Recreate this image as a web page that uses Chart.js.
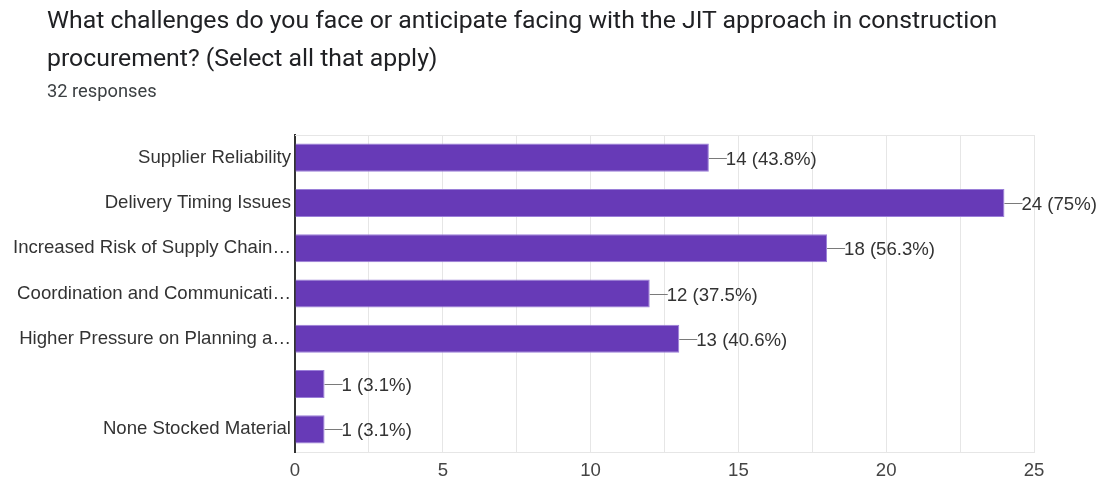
<!DOCTYPE html>
<html>
<head>
<meta charset="utf-8">
<script src="https://cdn.jsdelivr.net/npm/chart.js@4.4.1/dist/chart.umd.min.js"></script>
<style>
  html, body { margin: 0; padding: 0; background: #fff; }
  #wrap { position: relative; width: 1104px; height: 485px; overflow: hidden; }
  #title { position: absolute; left: 47px; top: 1px; font: 24.8px Roboto, "Liberation Sans", sans-serif; color: #202124; line-height: 38px; white-space: nowrap; }
  #sub { position: absolute; left: 47px; top: 80px; font: 18.3px Roboto, "Liberation Sans", sans-serif; color: #3c4043; line-height: 22px; }
  canvas { position: absolute; left: 0; top: 0; }
</style>
</head>
<body>
<div id="wrap">
  <canvas id="c" width="1104" height="485"></canvas>
  <div id="title">What challenges do you face or anticipate facing with the JIT approach in construction<br>procurement? (Select all that apply)</div>
  <div id="sub">32 responses</div>
</div>
<script>
const categories = [
  'Supplier Reliability',
  'Delivery Timing Issues',
  'Increased Risk of Supply Chain…',
  'Coordination and Communicati…',
  'Higher Pressure on Planning a…',
  '',
  'None Stocked Material'
];
const counts = [14, 24, 18, 12, 13, 1, 1];
const percents = ['43.8%', '75%', '56.3%', '37.5%', '40.6%', '3.1%', '3.1%'];
const xTicks = [0, 5, 10, 15, 20, 25];

const FONT = '"Liberation Sans", Arial, sans-serif';
const FONT_SIZE = 18.6;

// Leader lines and "count (percent)" labels beside each bar, plus the faint top frame line
const valueLabels = {
  id: 'valueLabels',
  beforeDatasetsDraw(chart) {
    const { ctx, chartArea } = chart;
    ctx.save();
    ctx.strokeStyle = '#e6e6e6';
    ctx.lineWidth = 1;
    ctx.beginPath();
    ctx.moveTo(chartArea.left, Math.round(chartArea.top) + 0.5);
    ctx.lineTo(chartArea.right, Math.round(chartArea.top) + 0.5);
    ctx.stroke();
    ctx.restore();
  },
  afterDatasetsDraw(chart) {
    const { ctx } = chart;
    const meta = chart.getDatasetMeta(0);
    ctx.save();
    ctx.font = FONT_SIZE + 'px ' + FONT;
    ctx.textBaseline = 'middle';
    ctx.textAlign = 'left';
    meta.data.forEach((bar, i) => {
      const x = bar.x;
      const y = Math.round(bar.y) + 0.5;
      ctx.strokeStyle = '#7a7a7a';
      ctx.lineWidth = 1;
      ctx.beginPath();
      ctx.moveTo(x, y);
      ctx.lineTo(x + 18, y);
      ctx.stroke();
      ctx.fillStyle = '#333333';
      ctx.fillText(counts[i] + ' (' + percents[i] + ')', x + 17, y + 1);
    });
    ctx.restore();
  }
};

new Chart(document.getElementById('c'), {
  type: 'bar',
  data: {
    labels: categories,
    datasets: [{
      data: counts,
      backgroundColor: '#673ab7',
      borderColor: '#9a7fd8',
      borderWidth: 1,
      borderSkipped: 'left',
      barPercentage: 0.62,
      categoryPercentage: 1.0
    }]
  },
  options: {
    indexAxis: 'y',
    responsive: false,
    animation: false,
    layout: { padding: { top: 135, right: 70, left: 0, bottom: 0 } },
    plugins: {
      legend: { display: false },
      tooltip: { enabled: false },
      title: { display: false }
    },
    scales: {
      x: {
        min: 0,
        max: 25,
        afterBuildTicks(scale) {
          const t = [];
          for (let v = 0; v <= 25; v += 2.5) t.push({ value: v });
          scale.ticks = t;
        },
        afterFit(scale) { scale.height = 33; },
        grid: {
          color: (c) => (c.tick && c.tick.value === 0) ? 'rgba(0,0,0,0)' : '#e6e6e6',
          drawTicks: false,
          lineWidth: 1
        },
        border: { display: true, color: '#e6e6e6' },
        ticks: {
          padding: 8,
          color: '#444444',
          font: { size: FONT_SIZE, family: FONT },
          callback: (v) => xTicks.includes(v) ? String(v) : ''
        }
      },
      y: {
        afterFit(scale) { scale.width = 295; },
        grid: { display: false, drawTicks: false },
        border: { display: true, color: '#333333', width: 2 },
        ticks: {
          padding: 4,
          color: '#333333',
          font: { size: FONT_SIZE, family: FONT }
        }
      }
    }
  },
  plugins: [valueLabels]
});
</script>
</body>
</html>
